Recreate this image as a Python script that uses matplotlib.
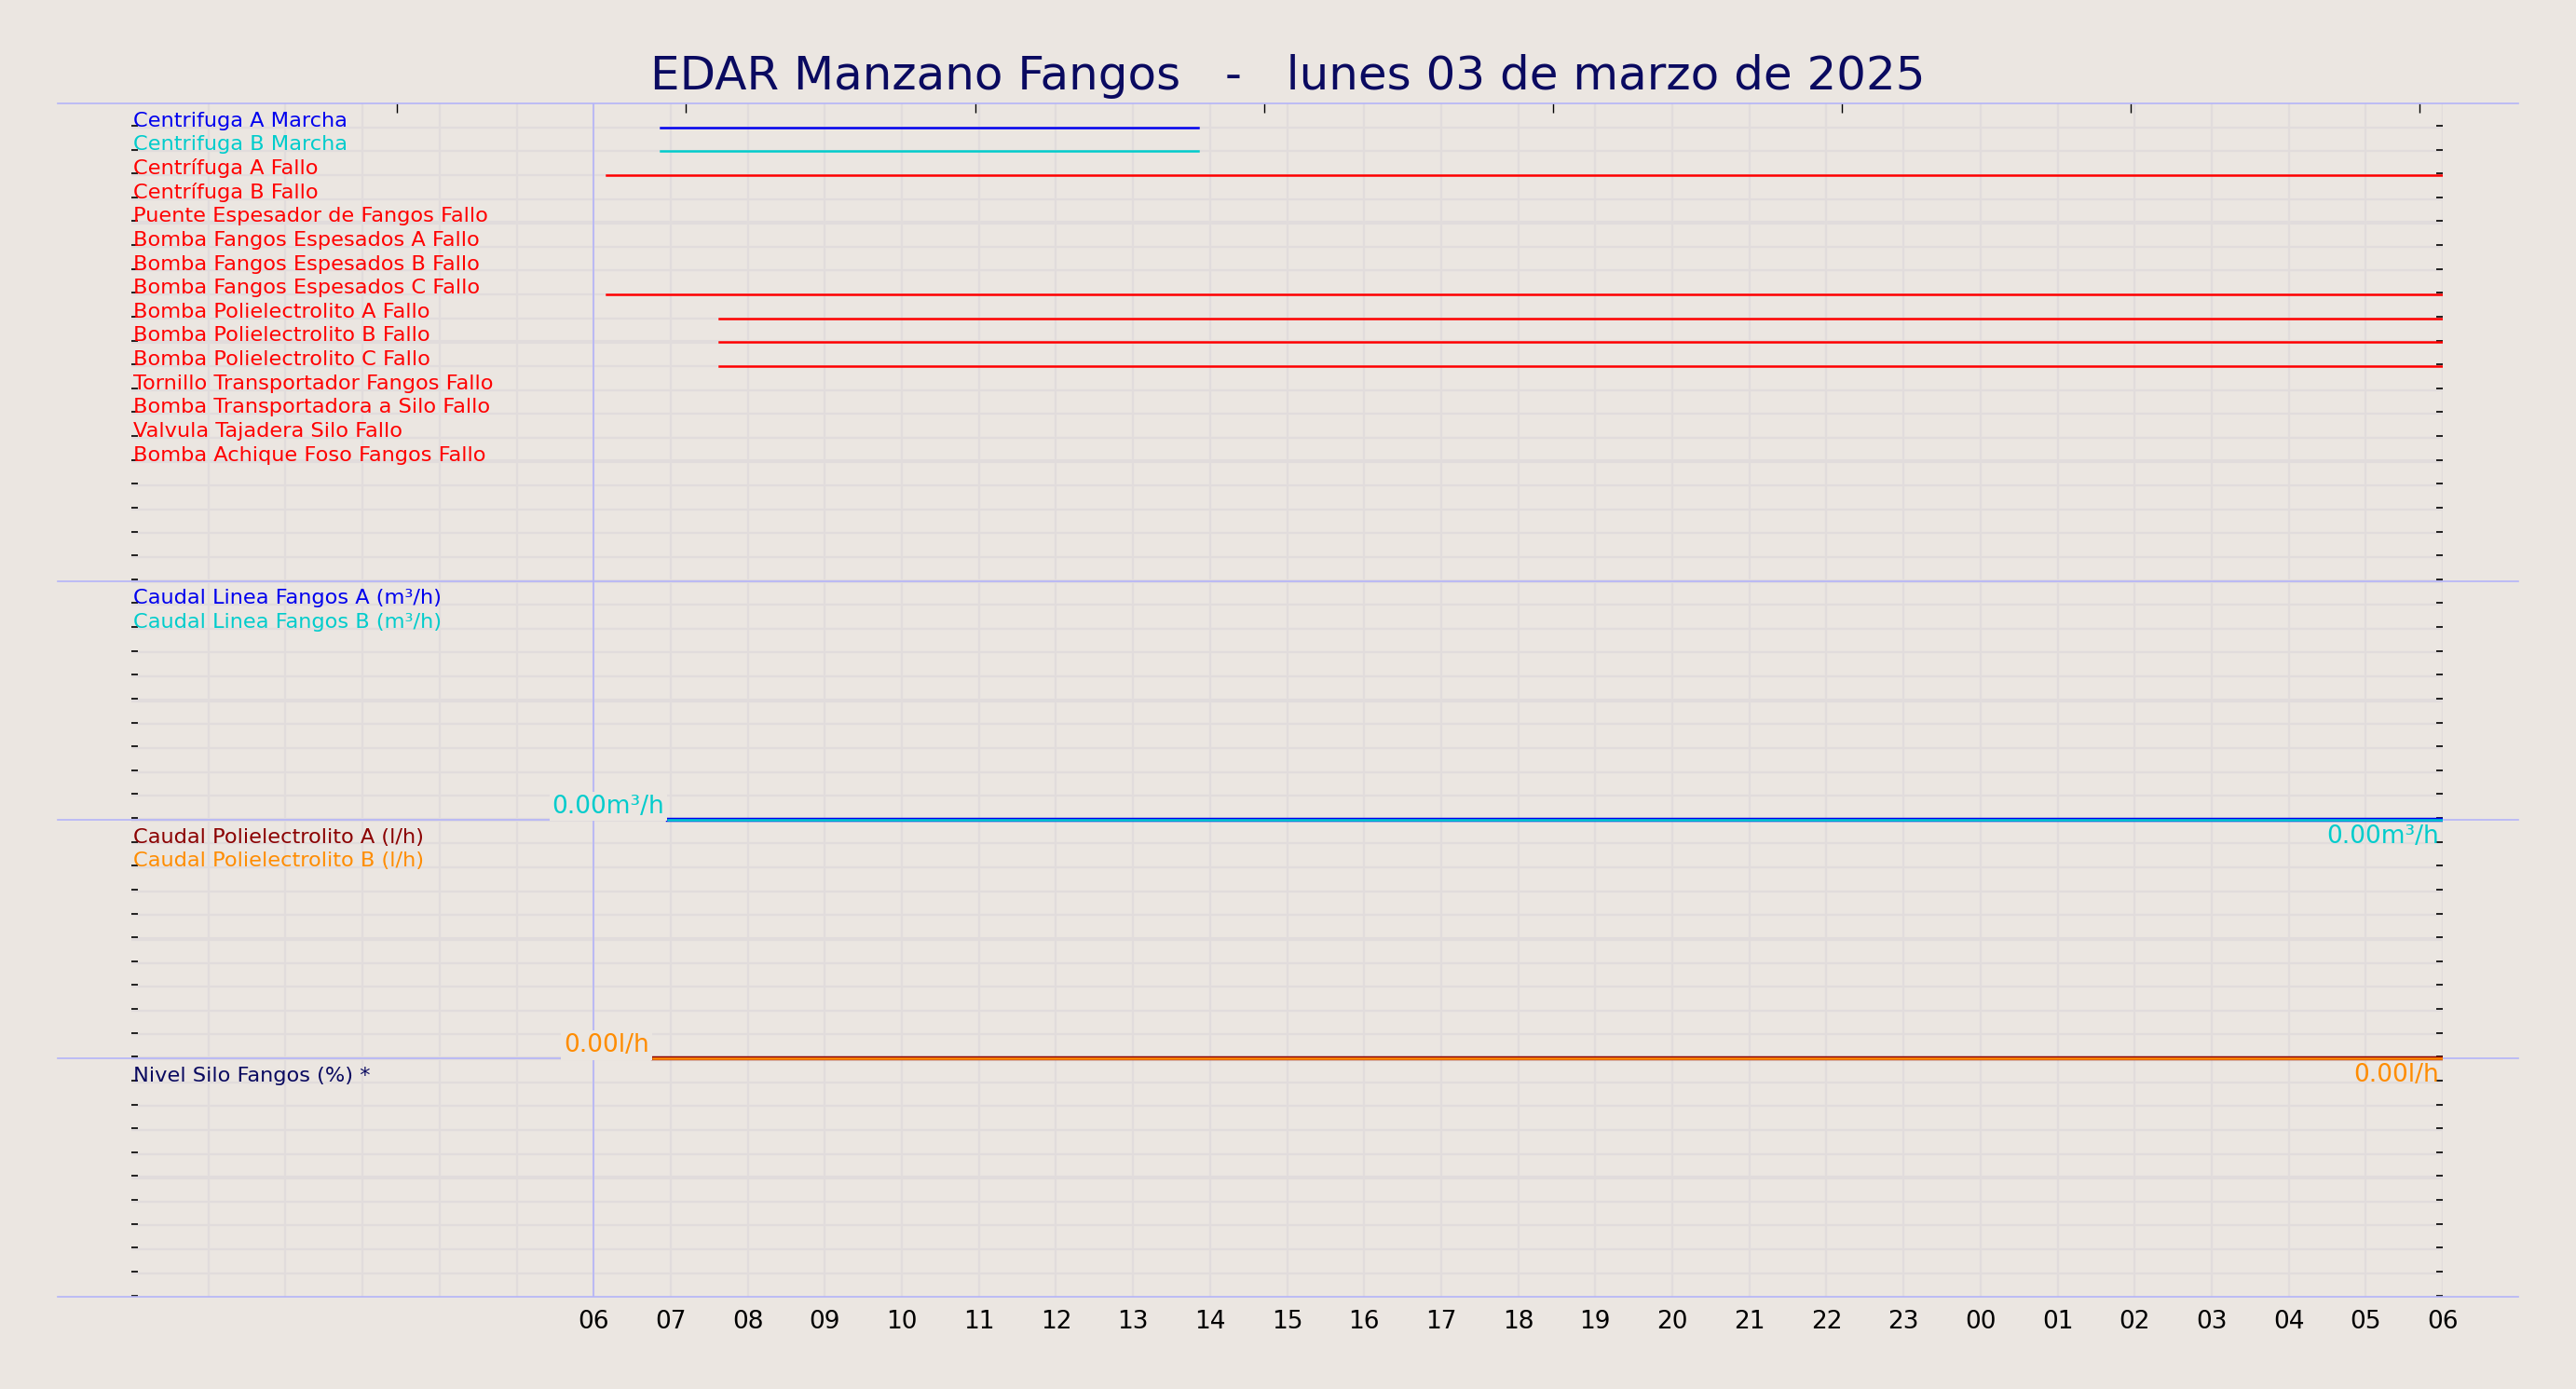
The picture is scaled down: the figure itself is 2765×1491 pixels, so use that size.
import matplotlib
matplotlib.use("Agg")
import matplotlib.pyplot as plt
import matplotlib.transforms as mtransforms

# ---- data ----
title = "EDAR Manzano Fangos   -   lunes 03 de marzo de 2025"
hour_labels = ["06","07","08","09","10","11","12","13","14","15","16","17","18",
               "19","20","21","22","23","00","01","02","03","04","05","06"]
digital_names = ["Centrifuga A Marcha", "Centrifuga B Marcha", "Centrífuga A Fallo",
                 "Centrífuga B Fallo", "Puente Espesador de Fangos Fallo",
                 "Bomba Fangos Espesados A Fallo", "Bomba Fangos Espesados B Fallo",
                 "Bomba Fangos Espesados C Fallo", "Bomba Polielectrolito A Fallo",
                 "Bomba Polielectrolito B Fallo", "Bomba Polielectrolito C Fallo",
                 "Tornillo Transportador Fangos Fallo", "Bomba Transportadora a Silo Fallo",
                 "Valvula Tajadera Silo Fallo", "Bomba Achique Foso Fangos Fallo"]
digital_colors = ["#0000ee", "#00cccc"] + ["#ff0000"] * 13
# active intervals (hours since 00:00 of 03/03)
digital_start = [6.87, 6.87, 6.17, None, None, None, None, 6.17, 7.63, 7.63, 7.63, None, None, None, None]
digital_end = [13.85, 13.85, 30, None, None, None, None, 30, 30, 30, 30, None, None, None, None]

flow_names = ["Caudal Linea Fangos A (m³/h)", "Caudal Linea Fangos B (m³/h)"]
flow_colors = ["#0000ee", "#00cccc"]
flow_start = 6.97
flow_value = [0.0, 0.0]
poly_names = ["Caudal Polielectrolito A (l/h)", "Caudal Polielectrolito B (l/h)"]
poly_colors = ["#8b0000", "#ff8c00"]
poly_start = 6.77
poly_value = [0.0, 0.0]
silo_name = "Nivel Silo Fangos (%) *"

BG = "#ebe6e1"
SEP = "#b4b4f8"
GRID = "#e1dcdc"

fig = plt.figure(figsize=(27.65, 14.91), dpi=100, facecolor=BG)
ax = fig.add_axes([0.051, 0.0662, 0.8973, 0.8593], facecolor=BG)
ax.set_xlim(0, 30)
ax.set_ylim(50, 0)
for s in ax.spines.values():
    s.set_visible(False)

# grid
for r in range(1, 50):
    lw = 3.0 if r % 5 == 0 else 1.6
    ax.axhline(r, color=GRID, lw=lw, zorder=0)
for h in range(1, 30):
    ax.axvline(h, color=GRID, lw=1.6, zorder=0)
ax.axvline(30, color=GRID, lw=2.5, zorder=0)
ax.axvline(6, color=SEP, lw=1.2, zorder=1)

# separators across the figure
bt = mtransforms.blended_transform_factory(fig.transFigure, ax.transData)
for y in [0, 20, 30, 40, 50]:
    ax.plot([0.0223, 0.9777], [y, y], color=SEP, lw=1.2, transform=bt, clip_on=False, zorder=2)

# x ticks
ax.set_xticks(range(6, 31))
ax.set_xticklabels(hour_labels, fontsize=19)
ax.tick_params(axis="x", length=0, pad=10)
# y minor ticks
ax.set_yticks([r + 0.93 for r in range(50)])
ax.set_yticklabels([])
ax.tick_params(axis="y", direction="in", length=5, width=1.2, left=True, right=True, color="black")
# top ticks
sec = ax.secondary_xaxis("top")
sec.set_xticks([3.45 + 3.75 * k for k in range(8)])
sec.set_xticklabels([])
sec.tick_params(direction="in", length=7, width=1)
for s in sec.spines.values():
    s.set_visible(False)

LBL = 16.2
# digital signals
for i, name in enumerate(digital_names):
    ax.text(0.02, i + 1.12, name, color=digital_colors[i], fontsize=LBL, va="bottom", ha="left")
    if digital_start[i] is not None:
        ax.plot([digital_start[i], digital_end[i]], [i + 1, i + 1], color=digital_colors[i], lw=1.8, zorder=3)

# flow panel (rows 20-30)
for i, name in enumerate(flow_names):
    ax.text(0.02, 20 + i + 1.12, name, color=flow_colors[i], fontsize=LBL, va="bottom", ha="left")
for i, v in enumerate(flow_value):
    ax.plot([flow_start, 30], [30 - v, 30 - v], color=flow_colors[i], lw=3.2 - i * 1.4, zorder=3 + i)
ax.text(flow_start - 0.05, 29.95, f"{flow_value[-1]:.2f}m³/h", color=flow_colors[-1], fontsize=19,
        ha="right", va="bottom", zorder=6, bbox=dict(facecolor=BG, edgecolor="none", pad=2))
ax.text(29.95, 30.2, f"{flow_value[-1]:.2f}m³/h", color=flow_colors[-1], fontsize=19,
        ha="right", va="top", zorder=6)

# polyelectrolyte panel (rows 30-40)
for i, name in enumerate(poly_names):
    ax.text(0.02, 30 + i + 1.12, name, color=poly_colors[i], fontsize=LBL, va="bottom", ha="left")
for i, v in enumerate(poly_value):
    ax.plot([poly_start, 30], [40 - v, 40 - v], color=poly_colors[i], lw=3.2 - i * 1.4, zorder=3 + i)
ax.text(poly_start - 0.05, 39.95, f"{poly_value[-1]:.2f}l/h", color=poly_colors[-1], fontsize=19,
        ha="right", va="bottom", zorder=6, bbox=dict(facecolor=BG, edgecolor="none", pad=2))
ax.text(29.95, 40.2, f"{poly_value[-1]:.2f}l/h", color=poly_colors[-1], fontsize=19,
        ha="right", va="top", zorder=6)

# silo panel
ax.text(0.02, 41.12, silo_name, color="#0a0a60", fontsize=LBL, va="bottom", ha="left")

fig.text(0.5, 0.945, title, color="#0a0a60", fontsize=36, ha="center", va="center")

fig.savefig("out.png", dpi=100, facecolor=BG)
